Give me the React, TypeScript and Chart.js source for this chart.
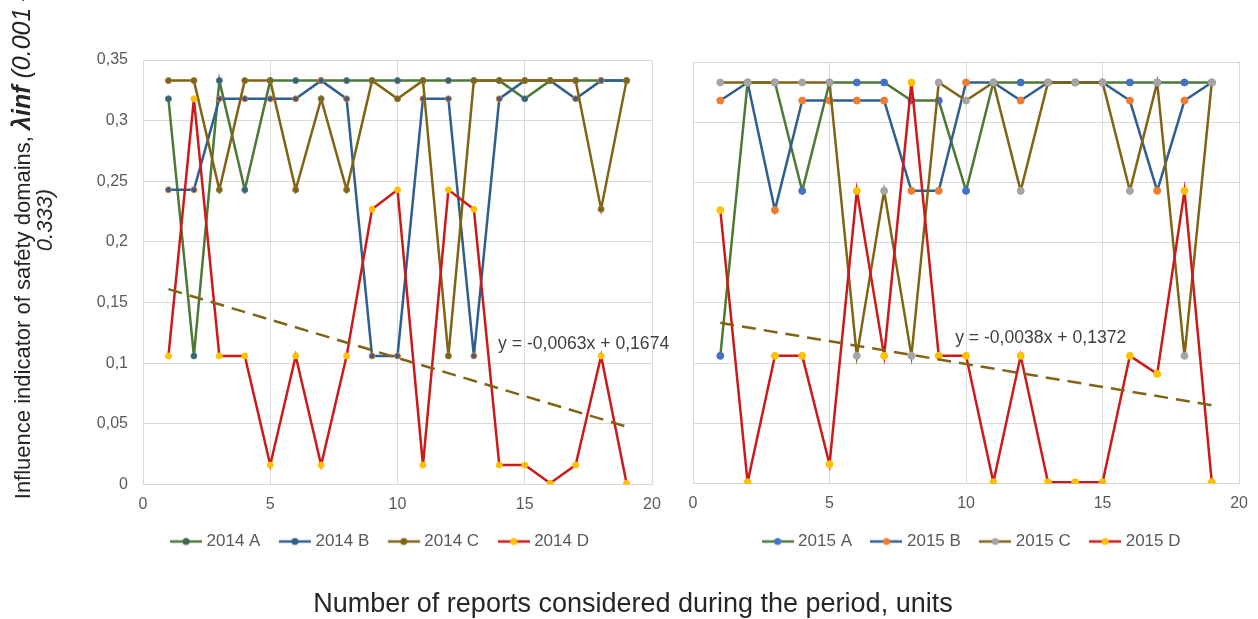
import React, { useEffect, useRef } from 'react';
import { Chart, registerables } from 'chart.js';

Chart.register(...registerables);

// ---------- data ----------
const reportNumbers = [1, 2, 3, 4, 5, 6, 7, 8, 9, 10, 11, 12, 13, 14, 15, 16, 17, 18, 19];

const series2014A = [0.318, 0.106, 0.333, 0.243, 0.333, 0.333, 0.333, 0.333, 0.333, 0.333, 0.333, 0.333, 0.333, 0.333, 0.318, 0.333, 0.333, 0.333, 0.333];
const series2014B = [0.243, 0.243, 0.318, 0.318, 0.318, 0.318, 0.333, 0.318, 0.106, 0.106, 0.318, 0.318, 0.106, 0.318, 0.333, 0.333, 0.318, 0.333, 0.333];
const series2014C = [0.333, 0.333, 0.243, 0.333, 0.333, 0.243, 0.318, 0.243, 0.333, 0.318, 0.333, 0.106, 0.333, 0.333, 0.333, 0.333, 0.333, 0.227, 0.333];
const series2014D = [0.106, 0.318, 0.106, 0.106, 0.016, 0.106, 0.016, 0.106, 0.227, 0.243, 0.016, 0.243, 0.227, 0.016, 0.016, 0.001, 0.016, 0.106, 0.001];

const series2015A = [0.106, 0.333, 0.333, 0.243, 0.333, 0.333, 0.333, 0.318, 0.318, 0.243, 0.333, 0.333, 0.333, 0.333, 0.333, 0.333, 0.333, 0.333, 0.333];
const series2015B = [0.318, 0.333, 0.227, 0.318, 0.318, 0.318, 0.318, 0.243, 0.243, 0.333, 0.333, 0.318, 0.333, 0.333, 0.333, 0.318, 0.243, 0.318, 0.333];
const series2015C = [0.333, 0.333, 0.333, 0.333, 0.333, 0.106, 0.243, 0.106, 0.333, 0.318, 0.333, 0.243, 0.333, 0.333, 0.333, 0.243, 0.333, 0.106, 0.333];
const series2015D = [0.227, 0.001, 0.106, 0.106, 0.016, 0.243, 0.106, 0.333, 0.106, 0.106, 0.001, 0.106, 0.001, 0.001, 0.001, 0.106, 0.091, 0.243, 0.001];

const labels2014 = ['2014 A', '2014 B', '2014 C', '2014 D'];
const labels2015 = ['2015 A', '2015 B', '2015 C', '2015 D'];

// linear trend of series D (as printed on the chart)
const trend2014Slope = -0.0063;
const trend2014Intercept = 0.1674;
const trend2015Slope = -0.0038;
const trend2015Intercept = 0.1372;
const trend2014Text = 'y = -0,0063x + 0,1674';
const trend2015Text = 'y = -0,0038x + 0,1372';
const trend2014TextAt = [13.95, 0.116];
const trend2015TextAt = [9.6, 0.1205];

const xMin = 0;
const xMax = 20;
const xStep = 5;
const yMin = 0;
const yMax = 0.35;
const yStep = 0.05;

const yTitleMain = 'Influence indicator of safety domains, ';
const yTitleMath = 'λinf';
const yTitleRange1 = ' (0.001 –';
const yTitleRange2 = '0.333)';
const xTitle = 'Number of reports considered during the period, units';

// ---------- styles ----------
const FONT = '"Liberation Sans", Arial, Helvetica, sans-serif';
const GRID = '#d9d9d9';
const TICK = '#595959';
const GREEN = '#4c7a34';
const BLUE = '#2f5f8f';
const OLIVE = '#806414';
const RED = '#cc1a1a';
const M_BLUE = '#4472c4';
const M_ORANGE = '#ed7d31';
const M_GREY = '#a5a5a5';
const M_YELLOW = '#ffc000';

type Style = { line: string; fill: string; border: string };

const styles2014: Style[] = [
  { line: GREEN, fill: '#3e6650', border: M_BLUE },
  { line: BLUE, fill: BLUE, border: M_ORANGE },
  { line: OLIVE, fill: OLIVE, border: '#8a7a40' },
  { line: RED, fill: M_YELLOW, border: M_YELLOW },
];
const styles2015: Style[] = [
  { line: GREEN, fill: M_BLUE, border: M_BLUE },
  { line: BLUE, fill: M_ORANGE, border: M_ORANGE },
  { line: OLIVE, fill: M_GREY, border: M_GREY },
  { line: RED, fill: M_YELLOW, border: M_YELLOW },
];

function legendIcon(s: Style) {
  const c = document.createElement('canvas');
  c.width = 32;
  c.height = 10;
  const g = c.getContext('2d')!;
  g.strokeStyle = s.line;
  g.lineWidth = 2.5;
  g.beginPath();
  g.moveTo(0, 5);
  g.lineTo(32, 5);
  g.stroke();
  g.beginPath();
  g.arc(16, 5, 3.5, 0, Math.PI * 2);
  g.fillStyle = s.fill;
  g.fill();
  return c;
}

const fmt = (v: number) => String(Math.round(v * 100) / 100).replace('.', ',');

type PanelOpts = {
  values: number[][];
  labels: string[];
  styles: Style[];
  slope: number;
  intercept: number;
  trendText: string;
  trendAt: number[];
  padLeft: number;
  padRight: number;
  padTop: number;
  yWidth: number;
  xHeight: number;
  showYTicks: boolean;
  legendShift: number;
  radius: number;
};

function buildConfig(p: PanelOpts): any {
  const icons = p.styles.map(legendIcon);
  const n = p.values.length;
  const datasets: any[] = p.values.map((vals, i) => ({
    label: p.labels[i],
    data: reportNumbers.map((x, j) => ({ x, y: vals[j] })),
    borderColor: p.styles[i].line,
    backgroundColor: p.styles[i].fill,
    pointBackgroundColor: p.styles[i].fill,
    pointBorderColor: p.styles[i].border,
    pointBorderWidth: 1,
    pointRadius: p.radius,
    borderWidth: 2.5,
    tension: 0,
    order: n - i + 1,
  }));
  const x0 = reportNumbers[0];
  const x1 = reportNumbers[reportNumbers.length - 1];
  datasets.push({
    label: 'trend',
    isTrend: true,
    data: [x0, x1].map((x) => ({ x, y: p.slope * x + p.intercept })),
    borderColor: OLIVE,
    borderDash: [14, 8],
    borderWidth: 2.5,
    pointRadius: 0,
    order: 0,
  });

  const trendLabelPlugin = {
    id: 'trendLabel',
    afterDatasetsDraw(chart: any) {
      const ctx = chart.ctx;
      const xs = chart.scales.x;
      const ys = chart.scales.y;
      ctx.save();
      ctx.font = `17.6px ${FONT}`;
      ctx.fillStyle = '#404040';
      ctx.textAlign = 'left';
      ctx.textBaseline = 'middle';
      ctx.fillText(p.trendText, xs.getPixelForValue(p.trendAt[0]), ys.getPixelForValue(p.trendAt[1]));
      ctx.restore();
    },
  };

  const legendShiftPlugin = {
    id: 'legendShift',
    afterLayout(chart: any) {
      const l = chart.legend;
      if (l) {
        l.left += p.legendShift;
        l.right += p.legendShift;
      }
    },
  };

  return {
    type: 'line',
    data: { datasets },
    options: {
      animation: false,
      responsive: false,
      maintainAspectRatio: false,
      layout: { padding: { left: p.padLeft, right: p.padRight, top: p.padTop, bottom: 0 } },
      scales: {
        x: {
          type: 'linear',
          min: xMin,
          max: xMax,
          ticks: { stepSize: xStep, color: TICK, font: { family: FONT, size: 16 }, padding: 10, maxRotation: 0 },
          grid: { color: GRID, drawTicks: false },
          border: { color: GRID },
          afterFit: (s: any) => {
            s.height = p.xHeight;
          },
        },
        y: {
          min: yMin,
          max: yMax,
          ticks: {
            stepSize: yStep,
            display: p.showYTicks,
            color: TICK,
            font: { family: FONT, size: 16 },
            padding: 15,
            callback: (v: any) => fmt(Number(v)),
          },
          grid: { color: GRID, drawTicks: false },
          border: { color: GRID },
          afterFit: (s: any) => {
            s.width = p.yWidth;
          },
        },
      },
      plugins: {
        tooltip: { enabled: false },
        legend: {
          position: 'bottom',
          fullSize: false,
          labels: {
            usePointStyle: true,
            pointStyleWidth: 24,
            padding: 22.5,
            color: TICK,
            font: { family: FONT, size: 17 },
            sort: (a: any, b: any) => a.datasetIndex - b.datasetIndex,
            filter: (item: any, data: any) => !data.datasets[item.datasetIndex].isTrend,
            generateLabels: (chart: any) => {
              const base = Chart.defaults.plugins.legend.labels.generateLabels(chart);
              return base.map((it: any) => ({ ...it, pointStyle: icons[it.datasetIndex] || it.pointStyle }));
            },
          },
        },
      },
    },
    plugins: [trendLabelPlugin, legendShiftPlugin],
  };
}

function Panel(props: { opts: PanelOpts; left: number; width: number; height: number }) {
  const ref = useRef<HTMLCanvasElement>(null);
  useEffect(() => {
    if (!ref.current) return;
    const chart = new Chart(ref.current, buildConfig(props.opts));
    return () => chart.destroy();
  }, []);
  return (
    <canvas
      ref={ref}
      width={props.width}
      height={props.height}
      style={{ position: 'absolute', left: props.left, top: 0, width: props.width, height: props.height }}
    />
  );
}

export default function App() {
  const left: PanelOpts = {
    values: [series2014A, series2014B, series2014C, series2014D],
    labels: labels2014,
    styles: styles2014,
    slope: trend2014Slope,
    intercept: trend2014Intercept,
    trendText: trend2014Text,
    trendAt: trend2014TextAt,
    padLeft: 80,
    padRight: 28,
    padTop: 60,
    yWidth: 63,
    xHeight: 26,
    showYTicks: true,
    legendShift: -16,
    radius: 3,
  };
  const right: PanelOpts = {
    values: [series2015A, series2015B, series2015C, series2015D],
    labels: labels2015,
    styles: styles2015,
    slope: trend2015Slope,
    intercept: trend2015Intercept,
    trendText: trend2015Text,
    trendAt: trend2015TextAt,
    padLeft: 0,
    padRight: 15,
    padTop: 62,
    yWidth: 28,
    xHeight: 27,
    showYTicks: false,
    legendShift: 7,
    radius: 3.5,
  };
  const titleLine: any = {
    position: 'absolute',
    width: 800,
    height: 26,
    lineHeight: '26px',
    transform: 'rotate(-90deg)',
    transformOrigin: '50% 50%',
    textAlign: 'center',
    fontSize: 22,
    color: '#262626',
    whiteSpace: 'nowrap',
  };
  return (
    <div
      style={{
        position: 'fixed',
        left: 0,
        top: 0,
        width: 1258,
        height: 619,
        background: '#ffffff',
        overflow: 'hidden',
        fontFamily: FONT,
      }}
    >
      <Panel opts={left} left={0} width={680} height={560} />
      <Panel opts={right} left={665} width={593} height={560} />
      <div style={{ ...titleLine, left: 21 - 400, top: 243 - 13 }}>
        {yTitleMain}
        <i style={{ fontSize: 25 }}>
          <b>{yTitleMath}</b>
          {yTitleRange1}
        </i>
      </div>
      <div style={{ ...titleLine, left: 45 - 400, top: 220 - 13 }}>
        <i>{yTitleRange2}</i>
      </div>
      <div
        style={{
          position: 'absolute',
          left: 0,
          top: 588,
          width: 1266,
          textAlign: 'center',
          fontSize: 27,
          lineHeight: '30px',
          color: '#262626',
          whiteSpace: 'nowrap',
        }}
      >
        {xTitle}
      </div>
    </div>
  );
}
